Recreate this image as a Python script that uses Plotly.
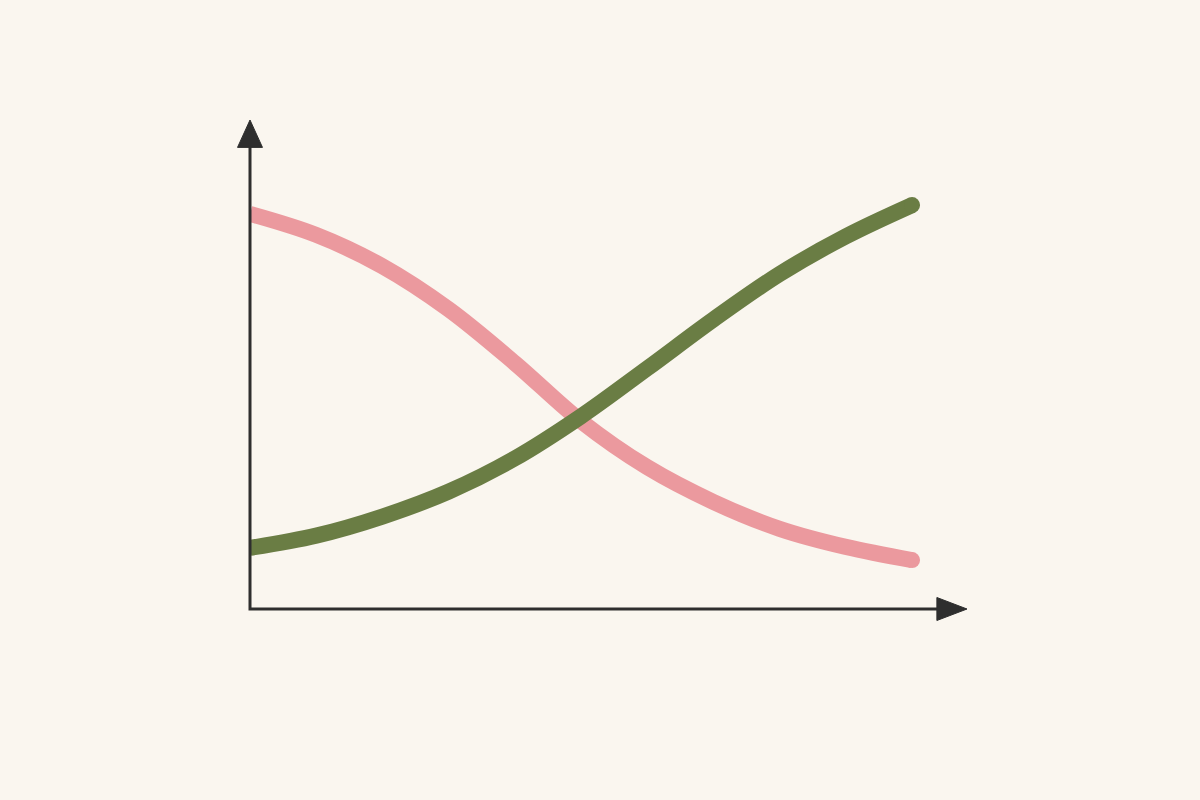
import plotly.graph_objects as go

# values (x in arbitrary units, y in 0-100)
x_vals = [0, 1, 2, 3, 4, 5, 6, 7, 8, 9, 10]
falling = [80.8, 76.5, 70.1, 61.3, 50.3, 38.4, 29.0, 21.9, 16.4, 12.7, 10.0]
rising = [12.5, 15.0, 18.9, 24.0, 30.8, 39.4, 49.2, 59.2, 68.5, 76.2, 82.6]

bg = '#FAF6EF'
pink = '#EB999E'
green = '#6A7D44'
ink = '#2E2E2E'
lw = 16

fig = go.Figure()

for ys, col in [(falling, pink), (rising, green)]:
    fig.add_trace(go.Scatter(x=x_vals, y=ys, mode='lines',
                             line=dict(color=col, width=lw, shape='spline', smoothing=1.0),
                             hoverinfo='skip', showlegend=False))
    # round end cap
    fig.add_trace(go.Scatter(x=x_vals[-1:], y=ys[-1:], mode='markers',
                             marker=dict(color=col, size=lw, line=dict(width=0)),
                             cliponaxis=False, hoverinfo='skip', showlegend=False))

axis_opts = dict(showgrid=False, zeroline=False, showticklabels=False,
                 ticks='', showline=False, fixedrange=True)

fig.update_layout(
    width=1200, height=800,
    margin=dict(l=250, r=233, t=120, b=191),
    paper_bgcolor=bg, plot_bgcolor=bg,
    xaxis=dict(range=[0, 10.83], **axis_opts),
    yaxis=dict(range=[0, 100], **axis_opts),
    shapes=[
        # axis lines
        dict(type='path', xref='paper', yref='paper', layer='above',
             path='M 0,0.95 L 0,0 L 0.962,0',
             line=dict(color=ink, width=3)),
        # y arrowhead
        dict(type='path', xref='paper', yref='paper', layer='above',
             path='M 0,1 L -0.0174,0.944 L 0.0174,0.944 Z',
             fillcolor=ink, line=dict(color=ink, width=1)),
        # x arrowhead
        dict(type='path', xref='paper', yref='paper', layer='above',
             path='M 1,0 L 0.958,0.0235 L 0.958,-0.0235 Z',
             fillcolor=ink, line=dict(color=ink, width=1)),
    ],
)

fig.write_html("out.html", config={'displayModeBar': False},
               post_script="document.body.style.margin='0';"
                           "document.body.style.background='" + bg + "';")
